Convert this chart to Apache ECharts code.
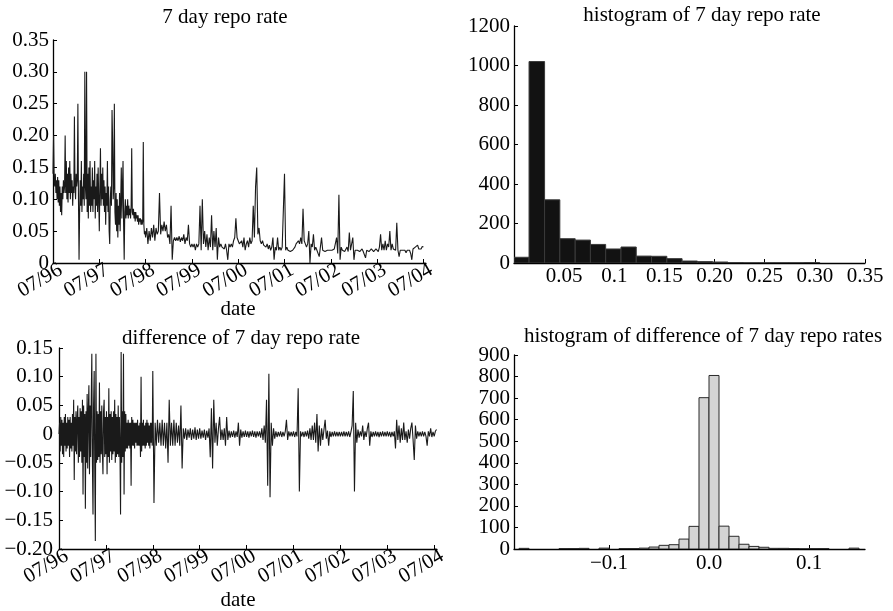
<!DOCTYPE html>
<html><head><meta charset="utf-8">
<script src="https://cdn.jsdelivr.net/npm/echarts@6/dist/echarts.min.js"></script>
<style>html,body{margin:0;padding:0;background:#fff}#c{width:893px;height:611px}</style>
</head><body><div id="c"></div>
<script>
// ---------- tick labels ----------
const dateTickPos = [0,1,2,3,4,5,6,7,8];            // years since 07/96
const dateTickLabels = ['07/96','07/97','07/98','07/99','07/00','07/01','07/02','07/03','07/04'];
const rateHistTickPos = [0.05,0.1,0.15,0.2,0.25,0.3,0.35];
const rateHistTickLabels = ['0.05','0.1','0.15','0.20','0.25','0.30','0.35'];
const diffHistTickPos = [-0.1,0,0.1];
const diffHistTickLabels = ['\u22120.1','0.0','0.1'];
const samplesPerYear = [80,80,40,40,40,40,40,40];   // readings per year, per yearly array

// ---------- 7 day repo rate (one array per year, 07/96 -> 07/97, ...) ----------
const rate9697 = [0.14,0.20,0.13,0.12,0.14,0.11,0.13,0.10,0.135,0.095,
  0.13,0.09,0.12,0.08,0.11,0.075,0.12,0.10,0.13,0.11,
  0.12,0.20,0.11,0.16,0.10,0.14,0.095,0.15,0.11,0.16,
  0.10,0.14,0.11,0.13,0.09,0.12,0.11,0.23,0.12,0.10,
  0.14,0.12,0.13,0.25,0.10,0.005,0.08,0.13,0.09,0.16,
  0.08,0.12,0.10,0.14,0.09,0.30,0.12,0.10,0.30,0.08,
  0.14,0.07,0.15,0.09,0.16,0.08,0.12,0.09,0.15,0.08,
  0.13,0.10,0.16,0.07,0.12,0.09,0.14,0.08,0.15,0.10];
const rate9798 = [0.05,0.12,0.18,0.09,0.14,0.10,0.15,0.09,0.13,0.08,
  0.12,0.06,0.11,0.09,0.16,0.08,0.12,0.05,0.03,0.10,
  0.12,0.09,0.24,0.19,0.10,0.12,0.25,0.08,0.06,0.11,
  0.05,0.10,0.04,0.09,0.06,0.11,0.05,0.10,0.15,0.07,
  0.12,0.16,0.06,0.005,0.08,0.10,0.07,0.09,0.075,0.10,
  0.07,0.09,0.075,0.085,0.07,0.09,0.18,0.08,0.075,0.085,
  0.07,0.08,0.065,0.08,0.07,0.075,0.065,0.075,0.06,0.07,
  0.065,0.07,0.06,0.068,0.06,0.065,0.19,0.06,0.045,0.05];
const rate9899 = [0.04,0.055,0.03,0.05,0.035,0.055,0.04,0.06,0.035,0.055,0.045,0.05,0.11,0.045,0.06,0.05,0.065,0.05,0.06,0.04,0.045,0.03,0.09,0.005,0.035,0.04,0.035,0.04,0.035,0.042,0.033,0.04,0.035,0.045,0.03,0.04,0.035,0.06,0.03,0.025];
const rate9900 = [0.03,0.025,0.03,0.02,0.03,0.025,0.03,0.09,0.02,0.10,0.03,0.05,0.025,0.045,0.02,0.04,0.025,0.075,0.02,0.05,0.025,0.055,0.005,0.04,0.025,0.03,0.025,0.028,0.022,0.03,0.02,0.005,0.03,0.025,0.03,0.025,0.035,0.04,0.07,0.04];
const rate0001 = [0.035,0.03,0.028,0.035,0.025,0.04,0.02,0.03,0.035,0.025,0.04,0.03,0.035,0.09,0.04,0.12,0.15,0.045,0.055,0.035,0.03,0.035,0.028,0.03,0.025,0.03,0.022,0.028,0.02,0.025,0.04,0.005,0.025,0.02,0.04,0.02,0.025,0.02,0.025,0.022];
const rate0102 = [0.14,0.02,0.025,0.02,0.022,0.018,0.02,0.02,0.022,0.025,0.03,0.028,0.035,0.03,0.04,0.03,0.085,0.035,0.03,0.025,0.03,0.05,0.0,0.03,0.025,0.045,0.02,0.025,0.02,0.022,0.01,0.025,0.04,0.02,0.022,0.018,0.02,0.02,0.018,0.02];
const rate0203 = [0.018,0.02,0.018,0.022,0.02,0.04,0.015,0.107,0.005,0.025,0.02,0.022,0.018,0.02,0.025,0.018,0.048,0.02,0.022,0.04,0.005,0.02,0.018,0.02,0.022,0.018,0.02,0.022,0.018,0.02,0.008,0.02,0.022,0.018,0.02,0.022,0.02,0.018,0.02,0.022];
const rate0304 = [0.02,0.018,0.025,0.045,0.02,0.03,0.02,0.035,0.02,0.03,0.025,0.05,0.02,0.03,0.022,0.025,0.02,0.063,0.02,0.01,0.02,0.018,0.02,0.018,0.02,0.016,0.02,0.018,0.02,0.015,0.005,0.022,0.02,0.025,0.022,0.028,0.022,0.025,0.022,0.026,0.025];

// ---------- difference of 7 day repo rate ----------
const diff9697 = [0.0,0.02,-0.03,0.03,-0.02,0.025,-0.035,0.02,-0.04,0.03,
  -0.02,0.035,-0.03,0.02,-0.025,0.03,-0.02,0.025,-0.04,0.03,
  -0.025,0.02,-0.03,0.035,-0.02,0.06,-0.08,0.03,-0.03,0.04,
  -0.035,0.025,0.05,-0.05,0.03,-0.04,0.045,-0.03,0.04,-0.05,
  0.06,-0.105,0.05,-0.04,0.035,-0.13,0.04,-0.05,0.07,-0.06,
  0.04,0.085,-0.07,0.05,-0.04,0.06,0.14,-0.05,-0.14,0.05,
  0.11,-0.06,-0.186,0.14,-0.05,0.04,-0.045,0.035,-0.04,0.09,
  -0.05,0.04,-0.035,0.05,-0.03,-0.07,0.04,0.06,-0.04,0.03];
const diff9798 = [-0.035,0.04,-0.07,0.03,-0.04,0.08,-0.05,0.035,-0.03,0.04,
  -0.045,0.03,-0.035,0.04,-0.03,0.06,-0.05,0.035,-0.04,0.03,
  -0.035,0.05,-0.04,0.03,-0.03,-0.14,0.143,-0.05,0.04,-0.04,
  0.14,-0.105,0.04,-0.03,0.035,-0.025,0.02,-0.025,0.025,-0.02,
  0.02,-0.025,0.02,-0.09,0.03,-0.02,0.025,-0.02,0.02,-0.025,
  0.02,-0.015,0.02,-0.02,0.025,-0.02,0.015,-0.02,0.02,-0.04,
  0.10,-0.03,0.02,-0.02,0.025,-0.02,0.015,-0.025,0.02,-0.02,
  0.025,-0.015,0.02,-0.02,0.015,-0.025,0.02,-0.015,0.02,-0.02];
const diff9899 = [0.11,-0.12,0.02,-0.02,0.025,-0.015,0.02,-0.02,0.025,-0.02,0.02,-0.025,0.02,-0.05,0.06,-0.02,0.02,-0.02,0.025,-0.02,0.02,-0.015,0.015,-0.02,0.05,-0.06,0.01,-0.008,0.01,-0.01,0.008,-0.006,0.01,-0.01,0.008,-0.008,0.012,-0.01,0.008,-0.008];
const diff9900 = [0.01,-0.008,0.006,-0.006,0.008,-0.01,0.006,-0.006,0.01,-0.04,0.045,-0.06,0.06,-0.015,0.02,-0.02,0.01,0.03,-0.01,0.008,-0.01,0.01,-0.02,0.03,-0.01,0.006,-0.006,0.005,-0.005,0.006,-0.006,0.005,-0.005,0.02,-0.02,0.008,-0.006,0.005,-0.005,0.006];
const diff0001 = [-0.005,0.005,-0.006,0.005,-0.004,0.006,-0.005,0.005,-0.006,0.005,-0.004,0.005,-0.006,0.01,-0.01,0.015,-0.015,0.06,-0.09,0.105,-0.11,0.02,-0.02,0.01,-0.008,0.005,-0.005,0.004,-0.004,0.005,-0.005,0.004,-0.004,0.005,0.025,-0.01,0.005,-0.004,0.004,-0.004];
const diff0102 = [0.005,-0.005,0.004,-0.004,0.08,-0.10,0.005,-0.004,0.004,-0.005,0.005,-0.004,0.006,-0.008,0.01,-0.01,0.015,-0.01,0.02,-0.015,0.035,-0.03,0.015,-0.02,0.01,-0.01,0.008,0.025,-0.008,0.006,-0.02,0.005,-0.005,0.004,-0.004,0.005,-0.004,0.004,-0.004,0.004];
const diff0203 = [-0.004,0.004,-0.004,0.005,-0.004,0.004,-0.004,0.005,-0.005,0.004,0.015,0.075,-0.10,0.02,-0.015,0.008,-0.006,0.005,-0.004,0.015,-0.01,0.005,-0.005,0.01,0.02,-0.02,0.005,-0.005,0.004,-0.004,0.005,-0.004,0.004,-0.005,0.004,-0.004,0.005,-0.004,0.004,-0.004];
const diff0304 = [0.005,-0.004,0.004,-0.005,0.004,-0.004,0.005,-0.025,0.025,-0.01,0.015,-0.015,0.01,-0.01,0.02,-0.01,0.005,-0.015,0.008,-0.008,0.01,0.02,-0.01,-0.045,0.015,-0.008,0.005,-0.004,0.004,-0.004,0.005,-0.004,0.004,-0.004,-0.02,0.005,-0.004,0.01,-0.005,0.004,-0.004,0.005,0.008];

// ---------- histogram of rate ----------
const rateBinEdges = [0,0.0150,0.0305,0.0457,0.0610,0.0762,0.0914,0.1067,0.1219,0.1371,0.1524,0.1676,0.1829,0.1981,0.2133,0.2286,0.2438,0.2590,0.2743,0.2895,0.3048];
const rateBinCounts = [29,1020,320,123,116,94,71,81,35,34,22,10,7,5,2,1,1,1,1,2];

// ---------- histogram of differences ----------
const diffBinStarts = [-0.19,-0.18,-0.17,-0.16,-0.15,-0.14,-0.13,-0.12,-0.11,-0.10,-0.09,-0.08,-0.07,-0.06,-0.05,-0.04,-0.03,-0.02,-0.01,0.00,0.01,0.02,0.03,0.04,0.05,0.06,0.07,0.08,0.09,0.10,0.11,0.12,0.13,0.14];
const diffBinCounts = [3,0,0,0,2,2,3,0,4,0,2,2,4,9,17,20,46,105,702,805,106,59,22,12,8,3,3,2,1,2,2,0,0,4];
const diffBinWidth = 0.01;

// ---------- build ----------
function yearly(arrs){
  const out = [];
  arrs.forEach((a, y) => a.forEach((v, j) => out.push([y + j / samplesPerYear[y], v])));
  return out;
}
const rateData = yearly([rate9697,rate9798,rate9899,rate9900,rate0001,rate0102,rate0203,rate0304]);
const diffData = yearly([diff9697,diff9798,diff9899,diff9900,diff0001,diff0102,diff0203,diff0304]);
const rateHistData = rateBinCounts.map((c,i)=>[rateBinEdges[i], rateBinEdges[i+1], c]);
const diffHistData = diffBinCounts.map((c,i)=>[diffBinStarts[i], diffBinStarts[i]+diffBinWidth, c]);

const FONT = 'Liberation Serif';
const FS = 21;
const AXLINE = {show:true, onZero:false, lineStyle:{color:'#000', width:1.3}};
function tick(custom){
  const t = {show:true, inside:true, length:4, lineStyle:{color:'#000', width:1}};
  if (custom) t.customValues = custom;
  return t;
}
function lab(extra){
  return Object.assign({color:'#000', fontFamily:FONT, fontSize:FS}, extra);
}
function axis(extra){
  return Object.assign({type:'value', axisLine:AXLINE, axisTick:tick(), splitLine:{show:false}}, extra);
}
function histItem(fill, stroke){
  return function(params, api){
    const c = api.value(2);
    if (!c) return null;
    const p0 = api.coord([api.value(0), c]);
    const p1 = api.coord([api.value(1), 0]);
    return {type:'rect', shape:{x:p0[0], y:p0[1], width:p1[0]-p0[0], height:p1[1]-p0[1]},
            style:{fill:fill, stroke:stroke, lineWidth:1}};
  };
}
const minusFmt = v => (Math.abs(v) < 1e-9 ? '0' : v.toFixed(2).replace('-', '\u2212'));
const dateFmt = v => dateTickLabels[Math.round(v)];
const dateLabel = lab({rotate:30, margin:10, padding:[0,-9,0,0], customValues:dateTickPos, formatter:dateFmt});
const textStyle = t => ({text:t, font:FS+'px "'+FONT+'"', fill:'#000', align:'center', verticalAlign:'middle', textAlign:'center', textVerticalAlign:'middle'});

const chart = echarts.init(document.getElementById('c'), null, {renderer:'canvas'});
chart.setOption({
  animation:false,
  backgroundColor:'#fff',
  grid:[
    {left:53, top:40, width:373, height:223, outerBoundsMode:'none'},
    {left:514, top:26, width:351, height:237, outerBoundsMode:'none'},
    {left:59, top:348, width:378, height:201, outerBoundsMode:'none'},
    {left:514, top:355, width:351, height:194, outerBoundsMode:'none'}
  ],
  xAxis:[
    axis({gridIndex:0, min:0, max:8.056, axisTick:tick(dateTickPos), axisLabel:dateLabel}),
    axis({gridIndex:1, min:0, max:0.35, axisTick:tick(rateHistTickPos),
      axisLabel:lab({margin:3, customValues:rateHistTickPos,
        formatter:v=>rateHistTickLabels[rateHistTickPos.findIndex(t=>Math.abs(t-v)<1e-6)]})}),
    axis({gridIndex:2, min:0, max:8.06, axisTick:tick(dateTickPos), axisLabel:dateLabel}),
    axis({gridIndex:3, min:-0.195, max:0.156, axisTick:tick(diffHistTickPos),
      axisLabel:lab({margin:4, customValues:diffHistTickPos,
        formatter:v=>diffHistTickLabels[diffHistTickPos.findIndex(t=>Math.abs(t-v)<1e-6)]})})
  ],
  yAxis:[
    axis({gridIndex:0, min:0, max:0.35, interval:0.05, axisLabel:lab({margin:4, formatter:minusFmt})}),
    axis({gridIndex:1, min:0, max:1200, interval:200, axisLabel:lab({margin:4, formatter:v=>String(v)})}),
    axis({gridIndex:2, min:-0.2, max:0.15, interval:0.05, axisLabel:lab({margin:6, formatter:minusFmt})}),
    axis({gridIndex:3, min:0, max:900, interval:100, axisLabel:lab({margin:4, formatter:v=>String(v)})})
  ],
  series:[
    {type:'line', xAxisIndex:0, yAxisIndex:0, data:rateData, showSymbol:false, symbol:'none',
     lineStyle:{color:'#1a1a1a', width:1.1}, clip:true},
    {type:'custom', xAxisIndex:1, yAxisIndex:1, data:rateHistData, encode:{x:[0,1], y:2},
     renderItem:histItem('#121212', '#3a3a3a'), clip:true},
    {type:'line', xAxisIndex:2, yAxisIndex:2, data:diffData, showSymbol:false, symbol:'none',
     lineStyle:{color:'#1a1a1a', width:1.1}, clip:true},
    {type:'custom', xAxisIndex:3, yAxisIndex:3, data:diffHistData, encode:{x:[0,1], y:2},
     renderItem:histItem('#d4d4d4', '#2a2a2a'), clip:true}
  ],
  graphic:[
    {type:'text', x:225, y:17, style:textStyle('7 day repo rate')},
    {type:'text', x:702, y:15, style:textStyle('histogram of 7 day repo rate')},
    {type:'text', x:238, y:309, style:textStyle('date')},
    {type:'text', x:241, y:338, style:textStyle('difference of 7 day repo rate')},
    {type:'text', x:703, y:336, style:textStyle('histogram of difference of 7 day repo rates')},
    {type:'text', x:238, y:600, style:textStyle('date')}
  ]
});
</script></body></html>
